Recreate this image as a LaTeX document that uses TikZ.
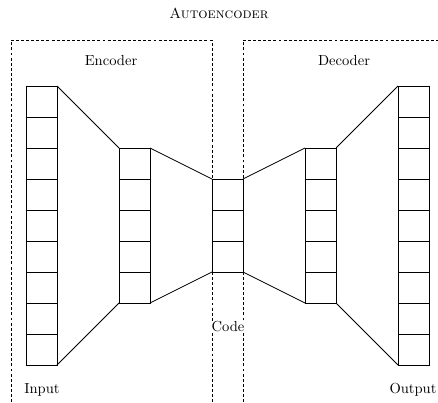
\documentclass[tikz,border=0pt]{standalone}
\begin{document}
\begin{tikzpicture}[x=0.6868pt,y=-0.6868pt,
  cell/.style={draw,line width=0.5pt,minimum width=21.29pt,minimum height=21.29pt,inner sep=0pt,outer sep=0pt},
  link/.style={line width=0.5pt},
  region/.style={line width=0.5pt,dash pattern=on 2pt off 1.5pt},
  lbl/.style={inner sep=1pt,font=\normalsize}]
\useasboundingbox (0,0) rectangle (438,402);
% dashed regions
\draw[region] (11,402) -- (11,40) -- (212,40) -- (212,402);
\draw[region] (243,402) -- (243,40) -- (445,40);
% columns
\foreach \i in {1,...,9} \node[cell] (in\i) at (41.5,{86+31*(\i-1)+15.5}) {};
\foreach \i in {1,...,5} \node[cell] (en\i) at (134.5,{148+31*(\i-1)+15.5}) {};
\foreach \i in {1,...,3} \node[cell] (co\i) at (227.5,{179+31*(\i-1)+15.5}) {};
\foreach \i in {1,...,5} \node[cell] (de\i) at (320.5,{148+31*(\i-1)+15.5}) {};
\foreach \i in {1,...,9} \node[cell] (out\i) at (413.5,{86+31*(\i-1)+15.5}) {};
% connectors
\draw[link] (in1.north east) -- (en1.north west);
\draw[link] (in9.south east) -- (en5.south west);
\draw[link] (en1.north east) -- (co1.north west);
\draw[link] (en5.south east) -- (co3.south west);
\draw[link] (co1.north east) -- (de1.north west);
\draw[link] (co3.south east) -- (de5.south west);
\draw[link] (de1.north east) -- (out1.north west);
\draw[link] (de5.south east) -- (out9.south west);
% labels
\node[lbl] (title) at (219,13) {\textsc{Autoencoder}};
\node[lbl] (enc) at (111,61) {Encoder};
\node[lbl] (dec) at (344,61) {Decoder};
\node[lbl] (inp) at (42,390) {Input};
\node[lbl] (outp) at (413,390) {Output};
\node[lbl,fill=white,inner sep=0.5pt] (code) at (228,327) {Code};
\end{tikzpicture}
\end{document}
